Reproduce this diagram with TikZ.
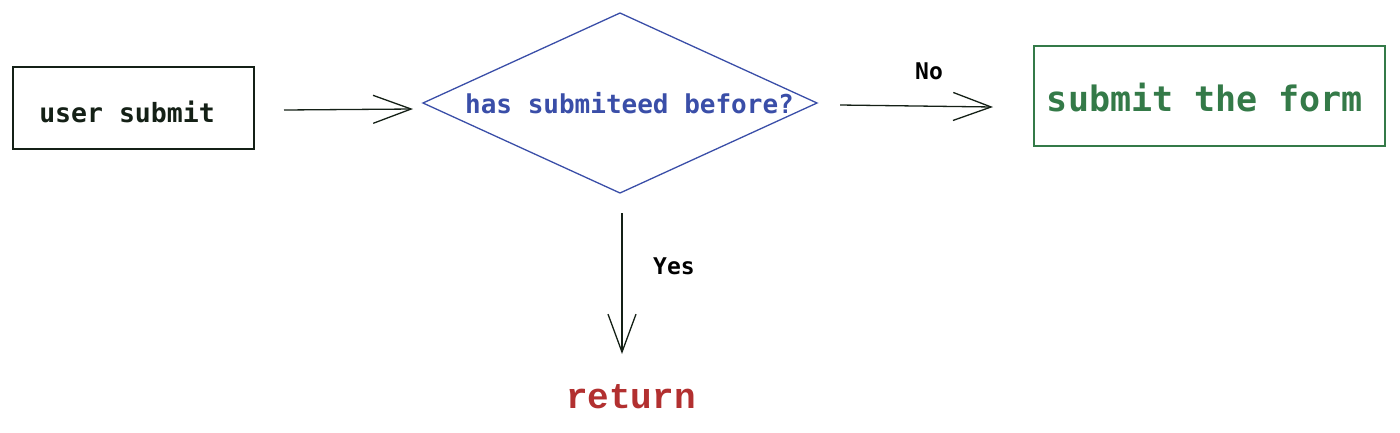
\documentclass[tikz,border=0pt]{standalone}
\usepackage{fontspec}
\usetikzlibrary{shapes.geometric,arrows.meta}
\newfontfamily\monof{DejaVu Sans Mono}
\newfontfamily\courf{Liberation Mono}
\definecolor{inkc}{RGB}{20,32,22}
\definecolor{bluec}{RGB}{58,78,168}
\definecolor{greenc}{RGB}{52,122,72}
\definecolor{redc}{RGB}{178,48,48}
\tikzset{
  conn/.style={draw=inkc, line width=1.3pt, -{Straight Barb[length=38pt,width=28pt,line width=1.3pt]}},
  boxc/.style={draw, line width=1.3pt, inner sep=0pt, outer sep=0pt},
  lbl/.style={text=black, font=\monof\bfseries\fontsize{23}{28}\selectfont}
}
\begin{document}
\begin{tikzpicture}[x=1pt,y=-1pt]
\useasboundingbox (0,0) rectangle (1400,432);
\node[boxc, draw=inkc, minimum width=241pt, minimum height=82pt] (user) at (133.5,108) {};
\node[text=inkc, font=\monof\bfseries\fontsize{26.5}{30}\selectfont] (usertxt) at (127,112) {user submit};
\node[diamond, draw=bluec, line width=1.3pt, minimum width=394pt, minimum height=180pt, inner sep=0pt, outer sep=0pt] (dec) at (620,103) {};
\node[text=bluec, font=\monof\bfseries\fontsize{26}{30}\selectfont] (dectxt) at (629.5,103) {has submiteed before?};
\node[boxc, draw=greenc, minimum width=351pt, minimum height=100pt] (form) at (1209.5,96) {};
\node[text=greenc, font=\monof\bfseries\fontsize{35}{40}\selectfont] (formtxt) at (1205,98) {submit the form};
\node[text=redc, font=\courf\bfseries\fontsize{36}{40}\selectfont] (ret) at (631,397) {return};
\coordinate (a1s) at (284,110);
\coordinate (a1e) at (413,109);
\coordinate (a2s) at (840,105);
\coordinate (a2e) at (993,107);
\coordinate (a3s) at (622,213);
\coordinate (a3e) at (622,354);
\draw[conn] (a1s) -- (a1e);
\draw[conn] (a2s) -- (a2e);
\draw[conn] (a3s) -- (a3e);
\node[lbl] (no) at (929,71) {No};
\node[lbl] (yes) at (674,266) {Yes};
\end{tikzpicture}
\end{document}
